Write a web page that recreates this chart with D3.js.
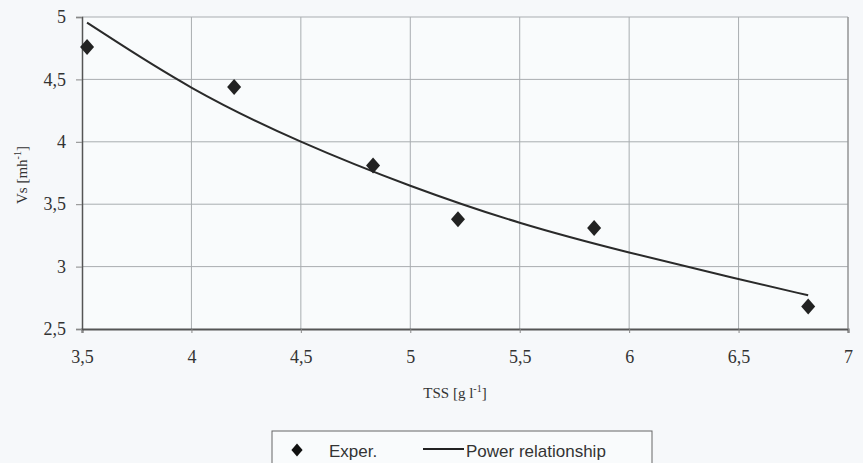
<!DOCTYPE html>
<html>
<head>
<meta charset="utf-8">
<script src="https://cdn.jsdelivr.net/npm/d3@7/dist/d3.min.js"></script>
<style>
  html, body { margin: 0; padding: 0; background: #f6f8fa; }
  svg { display: block; }
</style>
</head>
<body>
<svg id="chart" width="863" height="463"></svg>
<script>
// Measured settling velocity versus total suspended solids
const tss = [3.523, 4.195, 4.83, 5.218, 5.84, 6.818];
const vs = [4.76, 4.44, 3.81, 3.38, 3.31, 2.68];

// Power relationship curve, sampled along TSS
const fitTss = [3.523, 4.0, 4.5, 5.0, 5.5, 6.0, 6.5, 6.818];
const fitVs = [4.955, 4.41, 3.99, 3.64, 3.34, 3.11, 2.90, 2.77];

const xTicks = [3.5, 4, 4.5, 5, 5.5, 6, 6.5, 7];
const yTicks = [2.5, 3, 3.5, 4, 4.5, 5];

const svg = d3.select("#chart");
const plotL = 82, plotR = 848, plotT = 17, plotB = 329;
const serif = "Liberation Serif, Times New Roman, serif";
const sans = "Liberation Sans, Arial, sans-serif";

const x = d3.scaleLinear().domain([3.5, 7]).range([plotL, plotR]);
const y = d3.scaleLinear().domain([2.5, 5]).range([plotB, plotT]);
const fmt = d => String(d).replace(".", ",");

// plot area
svg.append("rect")
  .attr("x", plotL).attr("y", plotT)
  .attr("width", plotR - plotL).attr("height", plotB - plotT)
  .attr("fill", "#f9fbfc");

// grid
svg.append("g").selectAll("line").data(xTicks.slice(1)).join("line")
  .attr("x1", d => x(d)).attr("x2", d => x(d))
  .attr("y1", plotT).attr("y2", plotB)
  .attr("stroke", "#a9adb0").attr("stroke-width", 1);
svg.append("g").selectAll("line").data(yTicks.slice(1)).join("line")
  .attr("x1", plotL).attr("x2", plotR)
  .attr("y1", d => y(d)).attr("y2", d => y(d))
  .attr("stroke", "#a9adb0").attr("stroke-width", 1);

// axes
const xAxis = svg.append("g")
  .attr("transform", `translate(0,${plotB})`)
  .attr("font-family", serif)
  .attr("font-size", 18)
  .call(d3.axisBottom(x).tickValues(xTicks).tickFormat(fmt).tickSize(4).tickPadding(17));
xAxis.select(".domain").attr("stroke", "#555").attr("stroke-width", 2);
xAxis.selectAll(".tick line").attr("stroke", "#888");

const yAxis = svg.append("g")
  .attr("transform", `translate(${plotL},0)`)
  .call(d3.axisLeft(y).tickValues(yTicks).tickFormat(fmt).tickSize(6).tickPadding(10));
yAxis.select(".domain").attr("stroke", "#555").attr("stroke-width", 1.5);
yAxis.selectAll(".tick line").attr("stroke", "#888");

// tick label typeface
[xAxis, yAxis].forEach(g => g
  .attr("font-family", serif)
  .attr("font-size", 18)
  .selectAll(".tick text")
  .style("font-family", serif)
  .style("font-size", "18px")
  .attr("fill", "#333"));

// right frame edge
svg.append("line")
  .attr("x1", plotR).attr("x2", plotR).attr("y1", plotT).attr("y2", plotB)
  .attr("stroke", "#888").attr("stroke-width", 1);

// fitted curve
const fit = fitTss.map((t, i) => [t, fitVs[i]]);
svg.append("path")
  .datum(fit)
  .attr("fill", "none")
  .attr("stroke", "#2a2a2a")
  .attr("stroke-width", 2)
  .attr("d", d3.line().x(d => x(d[0])).y(d => y(d[1])).curve(d3.curveBasis));

// diamonds
const diamond = "M0,-8L7,0L0,8L-7,0Z";
svg.append("g").selectAll("path").data(tss.map((t, i) => [t, vs[i]])).join("path")
  .attr("transform", d => `translate(${x(d[0])},${y(d[1])})`)
  .attr("d", diamond)
  .attr("fill", "#222");

// axis titles
const xt = svg.append("text")
  .attr("x", 455).attr("y", 398)
  .attr("text-anchor", "middle")
  .attr("font-family", serif)
  .attr("font-size", 15).attr("fill", "#333");
xt.append("tspan").text("TSS [g l");
xt.append("tspan").attr("dy", -6).attr("font-size", 10).text("-1");
xt.append("tspan").attr("dy", 6).text("]");

const yt = svg.append("text")
  .attr("transform", "translate(27,175) rotate(-90)")
  .attr("text-anchor", "middle")
  .attr("font-family", serif)
  .attr("font-size", 15).attr("fill", "#333");
yt.append("tspan").text("Vs [mh");
yt.append("tspan").attr("dy", -6).attr("font-size", 10).text("-1");
yt.append("tspan").attr("dy", 6).text("]");

// legend
const lg = svg.append("g");
lg.append("rect")
  .attr("x", 272).attr("y", 431).attr("width", 380).attr("height", 40)
  .attr("fill", "#f9fbfc").attr("stroke", "#666").attr("stroke-width", 1);
lg.append("path").attr("d", diamond)
  .attr("transform", "translate(297,450) scale(0.8)")
  .attr("fill", "#111");
lg.append("text").attr("x", 329).attr("y", 457)
  .attr("font-family", sans)
  .attr("font-size", 17).attr("fill", "#333").text("Exper.");
lg.append("line").attr("x1", 423).attr("x2", 464).attr("y1", 449).attr("y2", 449)
  .attr("stroke", "#222").attr("stroke-width", 2);
lg.append("text").attr("x", 466).attr("y", 457)
  .attr("font-family", sans)
  .attr("font-size", 17).attr("fill", "#333").text("Power relationship");
</script>
</body>
</html>
